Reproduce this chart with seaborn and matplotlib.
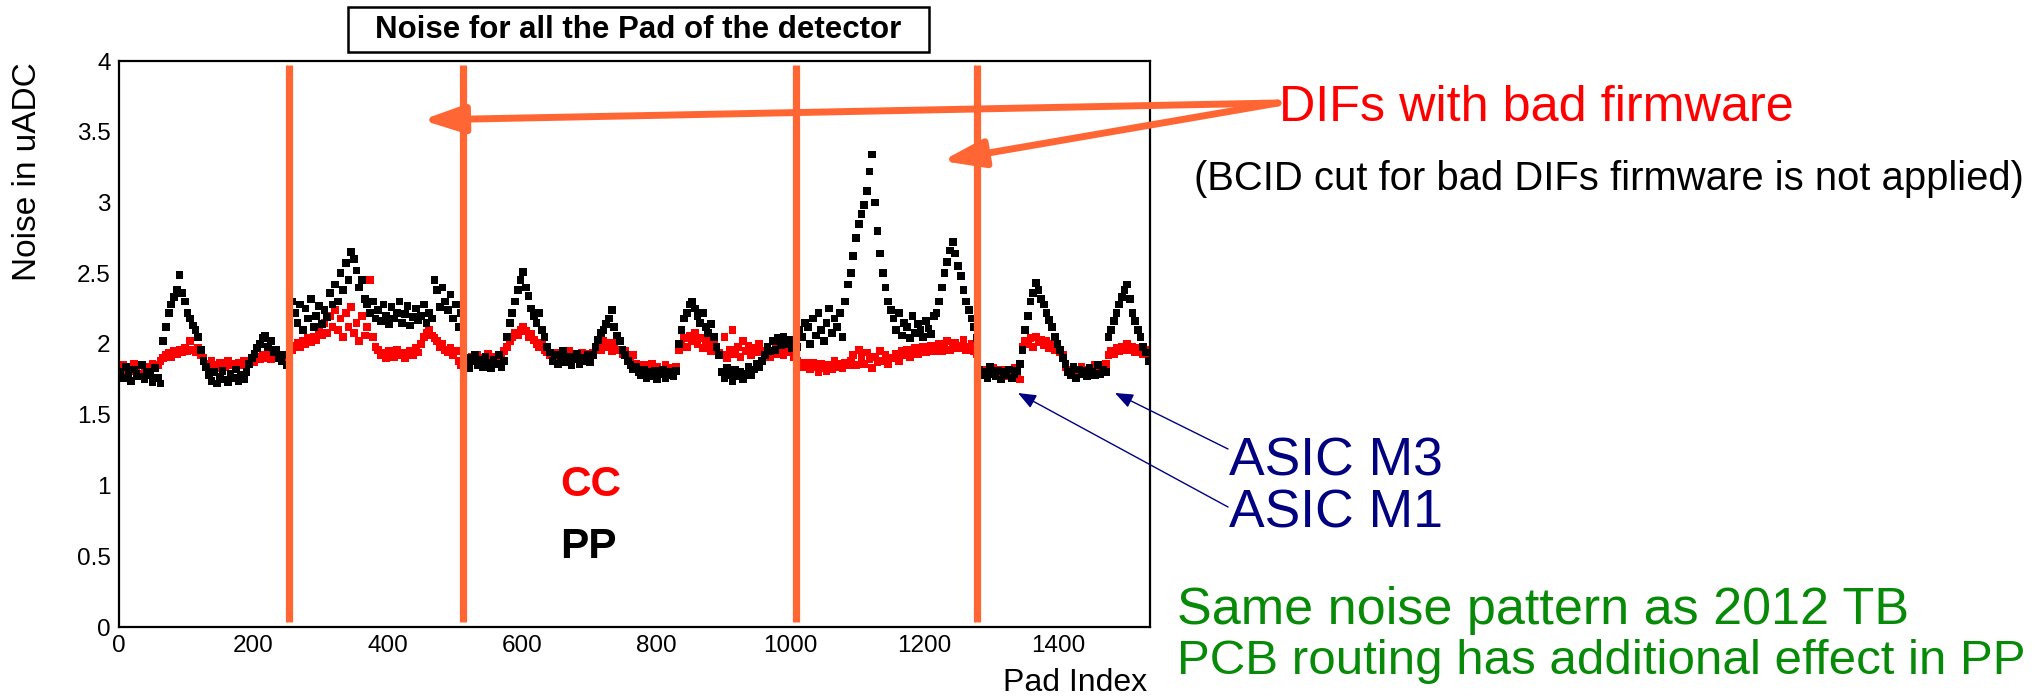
import numpy as np
import pandas as pd
import matplotlib
matplotlib.use("Agg")
import matplotlib.pyplot as plt
import seaborn as sns
from matplotlib.patches import Rectangle
from matplotlib.ticker import MultipleLocator, FuncFormatter

sns.set_theme(style="white")
plt.rcParams["font.family"] = ["Liberation Sans", "DejaVu Sans"]

# ---- data (one value every 4 pads, 16 values per 64-channel ASIC) ----
pp_noise = [
    1.80, 1.76, 1.84, 1.78, 1.74, 1.82, 1.79, 1.77, 1.85, 1.75, 1.80, 1.78, 1.73, 1.83, 1.76, 1.72,
    2.02, 2.12, 2.22, 2.28, 2.33, 2.38, 2.49, 2.36, 2.30, 2.22, 2.18, 2.13, 2.10, 2.05, 1.96, 1.88,
    1.84, 1.78, 1.74, 1.80, 1.72, 1.77, 1.81, 1.75, 1.73, 1.79, 1.76, 1.82, 1.74, 1.78, 1.75, 1.80,
    1.86, 1.90, 1.93, 1.97, 2.00, 2.04, 2.06, 1.98, 2.02, 1.94, 1.96, 1.90, 1.88, 1.92, 1.85, 1.83,
    2.30, 2.22, 2.15, 2.28, 2.10, 2.25, 2.18, 2.32, 2.12, 2.20, 2.27, 2.14, 2.24, 2.19, 2.36, 2.28,
    2.42, 2.30, 2.50, 2.38, 2.57, 2.45, 2.65, 2.60, 2.52, 2.40, 2.45, 2.32, 2.28, 2.22, 2.30, 2.18,
    2.24, 2.16, 2.28, 2.20, 2.14, 2.26, 2.18, 2.22, 2.30, 2.15, 2.21, 2.27, 2.13, 2.19, 2.25, 2.17,
    2.20, 2.28, 2.15, 2.22, 2.18, 2.45, 2.38, 2.26, 2.40, 2.30, 2.24, 2.35, 2.18, 2.28, 2.12, 2.22,
    1.86, 1.90, 1.83, 1.88, 1.92, 1.85, 1.89, 1.84, 1.91, 1.87, 1.83, 1.89, 1.86, 1.92, 1.84, 1.88,
    2.05, 2.15, 2.22, 2.30, 2.38, 2.45, 2.51, 2.40, 2.34, 2.25, 2.20, 2.15, 2.22, 2.10, 2.05, 1.98,
    1.94, 1.88, 1.92, 1.86, 1.90, 1.95, 1.87, 1.91, 1.85, 1.89, 1.93, 1.86, 1.90, 1.88, 1.92, 1.87,
    1.92, 1.98, 2.03, 2.08, 2.10, 2.14, 2.18, 2.24, 2.12, 2.06, 2.02, 1.96, 1.92, 1.88, 1.85, 1.82,
    1.84, 1.80, 1.78, 1.82, 1.76, 1.80, 1.77, 1.81, 1.75, 1.79, 1.82, 1.76, 1.78, 1.80, 1.77, 1.81,
    2.00, 2.10, 2.18, 2.22, 2.28, 2.30, 2.25, 2.20, 2.15, 2.22, 2.12, 2.08, 2.14, 2.05, 1.98, 1.92,
    1.80, 1.76, 1.83, 1.78, 1.74, 1.82, 1.77, 1.80, 1.75, 1.79, 1.84, 1.78, 1.82, 1.86, 1.84, 1.88,
    1.92, 1.98, 1.95, 2.02, 1.96, 2.04, 1.99, 2.05, 2.00, 2.03, 1.97, 2.02, 1.98, 2.10, 2.05, 2.15,
    2.12, 2.00, 2.18, 2.06, 2.22, 2.10, 2.02, 2.15, 2.25, 2.08, 2.18, 2.12, 2.22, 2.05, 2.30, 2.42,
    2.50, 2.62, 2.75, 2.85, 2.92, 2.98, 3.08, 3.22, 3.34, 3.00, 2.80, 2.64, 2.50, 2.40, 2.30, 2.24,
    2.18, 2.10, 2.22, 2.06, 2.15, 2.12, 2.04, 2.20, 2.08, 2.14, 2.10, 2.05, 2.16, 2.11, 2.07, 2.20,
    2.22, 2.30, 2.40, 2.50, 2.58, 2.66, 2.72, 2.64, 2.55, 2.48, 2.38, 2.30, 2.24, 2.18, 2.12, 2.04,
    1.82, 1.78, 1.80, 1.76, 1.84, 1.79, 1.77, 1.81, 1.75, 1.80, 1.78, 1.82, 1.76, 1.79, 1.81, 1.86,
    1.96, 2.10, 2.20, 2.30, 2.36, 2.43, 2.38, 2.32, 2.28, 2.22, 2.17, 2.12, 2.05, 2.00, 1.96, 1.90,
    1.86, 1.80, 1.78, 1.84, 1.76, 1.82, 1.79, 1.81, 1.77, 1.83, 1.80, 1.78, 1.85, 1.79, 1.82, 1.80,
    2.05, 2.10, 2.16, 2.22, 2.28, 2.33, 2.38, 2.42, 2.32, 2.22, 2.16, 2.10, 2.05, 1.98, 1.94, 1.88,
]

cc_noise = [
    1.82, 1.85, 1.80, 1.84, 1.81, 1.86, 1.83, 1.79, 1.85, 1.82, 1.84, 1.80, 1.86, 1.83, 1.85, 1.88,
    1.90, 1.92, 1.94, 1.91, 1.95, 1.93, 1.96, 1.94, 1.97, 1.95, 2.02, 1.96, 1.94, 1.97, 1.92, 1.90,
    1.86, 1.84, 1.88, 1.85, 1.83, 1.87, 1.86, 1.84, 1.88, 1.85, 1.86, 1.84, 1.87, 1.85, 1.88, 1.86,
    1.88, 1.90, 1.87, 1.91, 1.89, 1.92, 1.90, 1.93, 1.89, 1.91, 1.94, 1.90, 1.92, 1.89, 1.91, 1.88,
    1.96, 1.99, 2.01, 1.98, 2.02, 2.00, 2.04, 2.01, 2.05, 2.03, 2.10, 2.06, 2.15, 2.08, 2.20, 2.12,
    2.24, 2.10, 2.18, 2.05, 2.22, 2.12, 2.26, 2.08, 2.15, 2.02, 2.20, 2.06, 2.12, 2.45, 2.05, 1.98,
    1.96, 1.92, 1.94, 1.90, 1.95, 1.93, 1.91, 1.96, 1.92, 1.94, 1.90, 1.93, 1.95, 1.92, 1.97, 1.94,
    2.00, 2.05, 2.08, 2.10, 2.06, 2.04, 2.02, 1.98, 2.00, 1.96, 1.94, 1.97, 1.92, 1.95, 1.88, 1.85,
    1.88, 1.90, 1.86, 1.91, 1.89, 1.92, 1.87, 1.90, 1.88, 1.93, 1.89, 1.91, 1.87, 1.90, 1.92, 1.95,
    1.98, 2.02, 2.05, 2.08, 2.06, 2.10, 2.12, 2.09, 2.05, 2.07, 2.03, 2.00, 1.98, 2.01, 1.96, 1.94,
    1.92, 1.90, 1.94, 1.91, 1.93, 1.89, 1.92, 1.95, 1.90, 1.93, 1.91, 1.88, 1.94, 1.92, 1.90, 1.93,
    1.94, 1.97, 2.00, 1.96, 2.02, 1.98, 2.01, 1.95, 1.99, 2.03, 1.96, 1.93, 1.95, 1.91, 1.89, 1.92,
    1.86, 1.84, 1.82, 1.85, 1.80, 1.83, 1.86, 1.81, 1.84, 1.79, 1.82, 1.85, 1.80, 1.83, 1.81, 1.84,
    1.96, 2.00, 2.04, 1.98, 2.06, 2.02, 2.08, 2.00, 2.04, 1.97, 2.02, 1.99, 1.95, 2.00, 1.97, 1.94,
    1.92, 2.05, 1.90, 1.96, 2.10, 1.93, 1.98, 1.91, 2.02, 1.95, 1.99, 1.92, 1.97, 1.94, 2.00, 1.95,
    1.93, 1.96, 1.91, 1.95, 1.98, 1.93, 1.96, 1.92, 1.97, 1.94, 1.95, 1.91, 1.88, 1.86, 1.84, 1.87,
    1.85, 1.82, 1.87, 1.84, 1.80, 1.86, 1.83, 1.81, 1.85, 1.82, 1.88, 1.84, 1.86, 1.83, 1.87, 1.85,
    1.88, 1.92, 1.85, 1.96, 1.90, 1.86, 1.94, 1.89, 1.83, 1.91, 1.87, 1.95, 1.88, 1.92, 1.86, 1.90,
    1.90, 1.93, 1.88, 1.95, 1.92, 1.96, 1.91, 1.94, 1.97, 1.93, 1.95, 1.98, 1.94, 1.96, 1.99, 1.95,
    1.97, 2.00, 1.95, 1.99, 2.02, 1.96, 1.98, 2.01, 1.97, 1.99, 2.03, 1.96, 1.98, 2.00, 1.95, 1.93,
    1.80, 1.82, 1.78, 1.81, 1.79, 1.83, 1.80, 1.78, 1.82, 1.79, 1.81, 1.77, 1.80, 1.83, 1.79, 1.75,
    1.98, 2.02, 2.00, 2.04, 1.98, 2.05, 2.01, 2.03, 1.99, 2.02, 1.97, 2.00, 1.96, 1.98, 1.94, 1.92,
    1.84, 1.82, 1.80, 1.83, 1.81, 1.79, 1.84, 1.82, 1.80, 1.83, 1.81, 1.85, 1.82, 1.80, 1.84, 1.86,
    1.92, 1.95, 1.93, 1.97, 1.95, 1.98, 1.96, 2.00, 1.96, 1.98, 1.94, 1.97, 1.95, 1.93, 1.96, 1.92,
]

pad_index = np.arange(0, 1536, 4) + 2
dif_boundaries = [253, 513, 1009, 1279]
series_names = ["CC", "PP"]
series_colors = {"CC": "#ff0000", "PP": "#000000"}

ORANGE = "#ff6633"
NAVY = "#000080"
GREEN = "#078a07"

W, H = 2035, 696
fig = plt.figure(figsize=(W / 100, H / 100), dpi=100)
fig.patch.set_facecolor("white")
ax = fig.add_axes([119 / W, 1 - 627 / H, (1150 - 119) / W, (627 - 61) / H])

df = pd.DataFrame({
    "pad": np.concatenate([pad_index, pad_index]),
    "noise": cc_noise + pp_noise,
    "type": [series_names[0]] * len(cc_noise) + [series_names[1]] * len(pp_noise),
})
sns.scatterplot(data=df, x="pad", y="noise", hue="type", palette=series_colors,
                marker="s", s=31, linewidth=0, legend=False, ax=ax, zorder=2)

ax.set_xlim(0, 1536)
ax.set_ylim(0, 4)
ax.set_xlabel("")
ax.set_ylabel("")
ax.xaxis.set_major_locator(MultipleLocator(200))
ax.xaxis.set_minor_locator(MultipleLocator(50))
ax.yaxis.set_major_locator(MultipleLocator(0.5))
ax.yaxis.set_minor_locator(MultipleLocator(0.1))
ax.yaxis.set_major_formatter(FuncFormatter(lambda v, p: f"{v:g}"))
ax.tick_params(axis="both", which="both", direction="in", colors="black",
               top=False, right=False, labelsize=17.5, width=1.4)
ax.tick_params(axis="y", which="major", length=23.5, pad=6)
ax.tick_params(axis="y", which="minor", length=11.5)
ax.tick_params(axis="x", which="major", length=13, pad=6)
ax.tick_params(axis="x", which="minor", length=7)
for sp in ax.spines.values():
    sp.set_color("black")
    sp.set_linewidth(1.6)
ax.grid(False)

# DIF boundary lines
for b in dif_boundaries:
    ax.plot([b, b], [0.035, 3.97], color=ORANGE, lw=5.2, solid_capstyle="butt", zorder=4)

# axis titles
fig.text(27 / W, 1 - 62 / H, "Noise in uADC", rotation=90, ha="center", va="top",
         fontsize=24, color="black")
fig.text(1147 / W, 1 - 691 / H, "Pad Index", ha="right", va="baseline",
         fontsize=23, color="black")

# title box
fig.add_artist(Rectangle((348 / W, 1 - 52 / H), (929 - 348) / W, 45 / H,
                         transform=fig.transFigure, facecolor="white",
                         edgecolor="black", lw=1.8))
fig.text(638.5 / W, 1 - 30 / H, "Noise for all the Pad of the detector",
         ha="center", va="center", fontsize=22.5, fontweight="bold", color="black")

# legend-like labels
fig.text(560 / W, 1 - 496 / H, "CC", color="#ff0000", fontsize=30.5, fontweight="bold",
         ha="left", va="baseline")
fig.text(560 / W, 1 - 558 / H, "PP", color="black", fontsize=30.5, fontweight="bold",
         ha="left", va="baseline")

# annotations
fig.text(1279 / W, 1 - 121 / H, "DIFs with bad firmware", color="#ff0000", fontsize=36.3,
         ha="left", va="baseline")
fig.text(1194 / W, 1 - 190 / H, "(BCID cut for bad DIFs firmware is not applied)",
         color="black", fontsize=28.8, ha="left", va="baseline")
fig.text(1229 / W, 1 - 475 / H, "ASIC M3", color=NAVY, fontsize=38.5, ha="left", va="baseline")
fig.text(1229 / W, 1 - 527 / H, "ASIC M1", color=NAVY, fontsize=38.5, ha="left", va="baseline")
fig.text(1177 / W, 1 - 624 / H, "Same noise pattern as 2012 TB", color=GREEN, fontsize=37.5,
         ha="left", va="baseline")
fig.text(1177 / W, 1 - 674 / H, "PCB routing has additional effect in PP", color=GREEN,
         fontsize=35.5, ha="left", va="baseline")

def fig_arrow(start, end, color, lw, hl, hw):
    ax.annotate("", xy=(end[0], H - end[1]), xytext=(start[0], H - start[1]),
                xycoords="figure pixels", textcoords="figure pixels",
                annotation_clip=False,
                arrowprops=dict(arrowstyle=f"-|>,head_length={hl},head_width={hw}",
                                color=color, lw=lw, shrinkA=0, shrinkB=0,
                                mutation_scale=20))

fig_arrow((1278, 103), (422, 120), ORANGE, 5.0, 1.25, 0.42)
fig_arrow((1278, 103), (942, 161), ORANGE, 5.0, 1.25, 0.42)
fig_arrow((1228, 449), (1115, 393), NAVY, 1.0, 0.55, 0.22)
fig_arrow((1228, 507), (1018, 393), NAVY, 1.0, 0.55, 0.22)

fig.savefig("out.png", dpi=100, facecolor="white")
